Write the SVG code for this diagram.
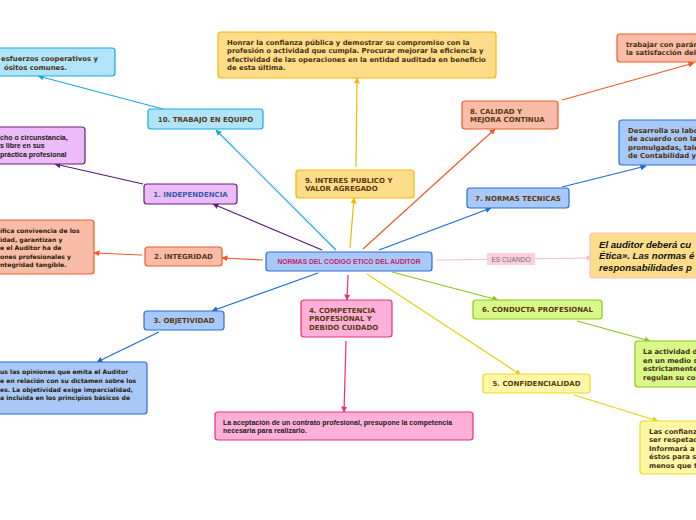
<svg xmlns="http://www.w3.org/2000/svg" width="696" height="520" viewBox="0 0 696 520">
<defs>
<style>
.n{stroke-width:1.2}
.t{font-family:"DejaVu Sans",Verdana,sans-serif;font-weight:bold;font-size:7px;fill:#5a3a10}
.tl{font-family:"DejaVu Sans",Verdana,sans-serif;font-weight:bold;font-size:6.9px;fill:#4a3010}
.ts{font-family:"DejaVu Sans",Verdana,sans-serif;font-weight:bold;font-size:6.1px;fill:#2a1a08}
.ta{font-family:"Liberation Sans",Arial,sans-serif;font-weight:bold;font-size:7px;fill:#1a1a1a}
.c{fill:none;stroke-width:1.2}
.blue{fill:#a8c8f8;stroke:#2a6fd6}
.cyan{fill:#b0e4fa;stroke:#1aa8e0}
.purp{fill:#ebbcf8;stroke:#6a1f7a}
.sal{fill:#f9bca8;stroke:#f05a28}
.pink{fill:#ffb0d8;stroke:#e8307a}
.gold{fill:#fddc8a;stroke:#f5b800}
.yel{fill:#fff7a8;stroke:#f0d820}
.grn{fill:#d8f88a;stroke:#8ac81a}
</style>
<marker id="aCy" viewBox="0 0 6 6" refX="5.5" refY="3" markerWidth="6" markerHeight="6" markerUnits="userSpaceOnUse" orient="auto"><path d="M0,0L6,3L0,6z" fill="#1aa8e0"/></marker>
<marker id="aPu" viewBox="0 0 6 6" refX="5.5" refY="3" markerWidth="6" markerHeight="6" markerUnits="userSpaceOnUse" orient="auto"><path d="M0,0L6,3L0,6z" fill="#5a1a7a"/></marker>
<marker id="aOr" viewBox="0 0 6 6" refX="5.5" refY="3" markerWidth="6" markerHeight="6" markerUnits="userSpaceOnUse" orient="auto"><path d="M0,0L6,3L0,6z" fill="#f05a28"/></marker>
<marker id="aBl" viewBox="0 0 6 6" refX="5.5" refY="3" markerWidth="6" markerHeight="6" markerUnits="userSpaceOnUse" orient="auto"><path d="M0,0L6,3L0,6z" fill="#1a6ad8"/></marker>
<marker id="aPk" viewBox="0 0 6 6" refX="5.5" refY="3" markerWidth="6" markerHeight="6" markerUnits="userSpaceOnUse" orient="auto"><path d="M0,0L6,3L0,6z" fill="#e8307a"/></marker>
<marker id="aYe" viewBox="0 0 6 6" refX="5.5" refY="3" markerWidth="6" markerHeight="6" markerUnits="userSpaceOnUse" orient="auto"><path d="M0,0L6,3L0,6z" fill="#e8d010"/></marker>
<marker id="aGr" viewBox="0 0 6 6" refX="5.5" refY="3" markerWidth="6" markerHeight="6" markerUnits="userSpaceOnUse" orient="auto"><path d="M0,0L6,3L0,6z" fill="#8ac81a"/></marker>
<marker id="aGo" viewBox="0 0 6 6" refX="5.5" refY="3" markerWidth="6" markerHeight="6" markerUnits="userSpaceOnUse" orient="auto"><path d="M0,0L6,3L0,6z" fill="#f5b800"/></marker>
<marker id="aLp" viewBox="0 0 6 6" refX="5.5" refY="3" markerWidth="6" markerHeight="6" markerUnits="userSpaceOnUse" orient="auto"><path d="M0,0L6,3L0,6z" fill="#f8c0d0"/></marker>
</defs>
<rect width="696" height="520" fill="#ffffff"/>
<g id="connectors">
<line class="c" x1="336" y1="250" x2="216" y2="130" stroke="#1aa8e0" marker-end="url(#aCy)"/>
<line class="c" x1="163" y1="109" x2="38" y2="76" stroke="#1aa8e0" marker-end="url(#aCy)"/>
<line class="c" x1="322" y1="250" x2="213" y2="204" stroke="#5a1a7a" marker-end="url(#aPu)"/>
<line class="c" x1="143" y1="184" x2="55" y2="164" stroke="#5a1a7a" marker-end="url(#aPu)"/>
<line class="c" x1="263" y1="260" x2="222" y2="258" stroke="#f05a28" marker-end="url(#aOr)"/>
<line class="c" x1="142" y1="255" x2="94" y2="253" stroke="#f05a28" marker-end="url(#aOr)"/>
<line class="c" x1="318" y1="273" x2="212" y2="311" stroke="#1a6ad8" marker-end="url(#aBl)"/>
<line class="c" x1="159" y1="332" x2="97" y2="362" stroke="#1a6ad8" marker-end="url(#aBl)"/>
<line class="c" x1="348" y1="275" x2="347" y2="300" stroke="#e8307a" marker-end="url(#aPk)"/>
<line class="c" x1="346" y1="341" x2="344" y2="412" stroke="#e8307a" marker-end="url(#aPk)"/>
<line class="c" x1="367" y1="274" x2="521" y2="375" stroke="#e8d010" marker-end="url(#aYe)"/>
<line class="c" x1="574" y1="395" x2="658" y2="421" stroke="#e8d010" marker-end="url(#aYe)"/>
<line class="c" x1="392" y1="272" x2="498" y2="300" stroke="#8ac81a" marker-end="url(#aGr)"/>
<line class="c" x1="577" y1="321" x2="650" y2="341" stroke="#8ac81a" marker-end="url(#aGr)"/>
<line class="c" x1="379" y1="250" x2="491" y2="208" stroke="#1a6ad8" marker-end="url(#aBl)"/>
<line class="c" x1="562" y1="187" x2="646" y2="166" stroke="#1a6ad8" marker-end="url(#aBl)"/>
<line class="c" x1="363" y1="249" x2="495" y2="129" stroke="#f05a28" marker-end="url(#aOr)"/>
<line class="c" x1="562" y1="100" x2="694" y2="63" stroke="#f05a28" marker-end="url(#aOr)"/>
<line class="c" x1="350" y1="248" x2="354" y2="198" stroke="#f5b800" marker-end="url(#aGo)"/>
<line class="c" x1="356" y1="167" x2="357" y2="78" stroke="#f5b800" marker-end="url(#aGo)"/>
<line class="c" x1="436" y1="260" x2="592" y2="258" stroke="#f8c0d0" marker-end="url(#aLp)"/>
<g id="label-es-cuando">
<rect x="487" y="253" width="48" height="12" fill="#fbd0dc"/>
<text x="511" y="261.5" text-anchor="middle" font-family="'Liberation Sans',Arial,sans-serif" font-size="6.6" fill="#7a6a70">ES CUANDO</text>
</g>
</g>
<g id="center">
<rect class="n blue" x="266" y="252" width="166" height="19" rx="3"/>
<text x="349" y="264.3" text-anchor="middle" font-family="'Liberation Sans',Arial,sans-serif" font-weight="bold" font-size="6.7" fill="#c8206a">NORMAS DEL CODIGO ETICO DEL AUDITOR</text>
</g>
<g id="n10">
<rect class="n cyan" x="148" y="109" width="115" height="20" rx="3"/>
<text class="t" x="205.5" y="121.5" text-anchor="middle">10. TRABAJO EN EQUIPO</text>
</g>
<g id="n10-leaf">
<rect class="n cyan" x="-10" y="48" width="125" height="28" rx="3"/>
<text class="tl" x="1" y="61">esfuerzos cooperativos y</text>
<text class="tl" x="4" y="69.5">ósitos comunes.</text>
</g>
<g id="n1">
<rect class="n purp" x="144" y="184" width="93" height="20" rx="3"/>
<text class="t" x="190.5" y="196.5" text-anchor="middle" style="fill:#3a5aa8">1. INDEPENDENCIA</text>
</g>
<g id="n1-leaf">
<rect class="n purp" x="-10" y="127" width="95" height="37" rx="3"/>
<text class="ta" x="0" y="139.5">cho o circunstancia,</text>
<text class="ta" x="0" y="148">s libre en sus</text>
<text class="ta" x="0" y="156.5">práctica profesional</text>
</g>
<g id="n2">
<rect class="n sal" x="145" y="247" width="77" height="19" rx="3"/>
<text class="t" x="183.5" y="259" text-anchor="middle">2. INTEGRIDAD</text>
</g>
<g id="n2-leaf">
<rect class="n sal" x="-10" y="220" width="104" height="54" rx="3"/>
<text class="ts" x="0" y="233">ífica convivencia de los</text>
<text class="ts" x="0" y="241.5">idad, garantizan y</text>
<text class="ts" x="0" y="250">e el Auditor ha de</text>
<text class="ts" x="0" y="258.5">ones profesionales y</text>
<text class="ts" x="0" y="267">ntegridad tangible.</text>
</g>
<g id="n3">
<rect class="n blue" x="144" y="311" width="80" height="19" rx="3"/>
<text class="t" x="184" y="323" text-anchor="middle">3. OBJETIVIDAD</text>
</g>
<g id="n3-leaf">
<rect class="n blue" x="-10" y="362" width="157" height="52" rx="3"/>
<text class="ts" x="0" y="374">us las opiniones que emita el Auditor</text>
<text class="ts" x="0" y="383">e en relación con su dictamen sobre los</text>
<text class="ts" x="0" y="391.5">es. La objetividad exige imparcialidad,</text>
<text class="ts" x="0" y="400">a incluida en los principios básicos de</text>
</g>
<g id="n4">
<rect class="n pink" x="301" y="300" width="91" height="37" rx="3"/>
<text class="t" x="309" y="312.5">4. COMPETENCIA</text>
<text class="t" x="309" y="321">PROFESIONAL Y</text>
<text class="t" x="309" y="329.5">DEBIDO CUIDADO</text>
</g>
<g id="n4-leaf">
<rect class="n pink" x="215" y="412" width="258" height="28" rx="3"/>
<text class="ta" x="223" y="424.5">La aceptación de un contrato profesional, presupone la competencia</text>
<text class="ta" x="223" y="433">necesaria para realizarlo.</text>
</g>
<g id="n5">
<rect class="n yel" x="483" y="374" width="107" height="19" rx="3"/>
<text class="t" x="536.5" y="386" text-anchor="middle">5. CONFIDENCIALIDAD</text>
</g>
<g id="n5-leaf">
<rect class="n yel" x="640" y="421" width="70" height="53" rx="3"/>
<text class="tl" x="649" y="433.5">Las confianza</text>
<text class="tl" x="649" y="442">ser respetad</text>
<text class="tl" x="649" y="450.5">Informará a</text>
<text class="tl" x="649" y="459">éstos para s</text>
<text class="tl" x="649" y="467.5">menos que t</text>
</g>
<g id="n6">
<rect class="n grn" x="473" y="300" width="129" height="19" rx="3"/>
<text class="t" x="537.5" y="312" text-anchor="middle">6. CONDUCTA PROFESIONAL</text>
</g>
<g id="n6-leaf">
<rect class="n grn" x="635" y="341" width="75" height="46" rx="3"/>
<text class="tl" x="643" y="354">La actividad d</text>
<text class="tl" x="643" y="362.5">en un medio s</text>
<text class="tl" x="643" y="371">estrictamente</text>
<text class="tl" x="643" y="379.5">regulan su co</text>
</g>
<g id="n7">
<rect class="n blue" x="467" y="188" width="102" height="20" rx="3"/>
<text class="t" x="518" y="200.5" text-anchor="middle">7. NORMAS TECNICAS</text>
</g>
<g id="n7-leaf">
<rect class="n blue" x="619" y="120" width="90" height="45" rx="3"/>
<text class="tl" x="628" y="132.5">Desarrolla su labo</text>
<text class="tl" x="628" y="141">de acuerdo con la</text>
<text class="tl" x="628" y="149.5">promulgadas, tale</text>
<text class="tl" x="628" y="158">de Contabilidad y</text>
</g>
<g id="n8">
<rect class="n sal" x="462" y="101" width="96" height="28" rx="3"/>
<text class="t" x="470" y="113.5">8. CALIDAD Y</text>
<text class="t" x="470" y="122">MEJORA CONTINUA</text>
</g>
<g id="n8-leaf">
<rect class="n sal" x="617" y="34" width="90" height="28" rx="3"/>
<text class="tl" x="626" y="46.5">trabajar con parám</text>
<text class="tl" x="626" y="55">la satisfacción del</text>
</g>
<g id="n9">
<rect class="n gold" x="296" y="170" width="118" height="28" rx="3"/>
<text class="t" x="305" y="182.5">9. INTERES PUBLICO Y</text>
<text class="t" x="305" y="191">VALOR AGREGADO</text>
</g>
<g id="n9-leaf">
<rect class="n gold" x="218" y="32" width="278" height="46" rx="3"/>
<text class="tl" x="227" y="44.5">Honrar la confianza pública y demostrar su compromiso con la</text>
<text class="tl" x="227" y="53">profesión o actividad que cumpla. Procurar mejorar la eficiencia y</text>
<text class="tl" x="227" y="61.5">efectividad de las operaciones en la entidad auditada en beneficio</text>
<text class="tl" x="227" y="70">de esta última.</text>
</g>
<g id="etica-leaf">
<rect x="590" y="233" width="120" height="45" rx="3" fill="#fddc8a" stroke="#f8c0d0" stroke-width="1.2"/>
<text x="599" y="247.5" font-family="'Liberation Sans',Arial,sans-serif" font-weight="bold" font-style="italic" font-size="9.6" fill="#111">El auditor deberá cu</text>
<text x="599" y="259" font-family="'Liberation Sans',Arial,sans-serif" font-weight="bold" font-style="italic" font-size="9.6" fill="#111">Ética». Las normas é</text>
<text x="599" y="270.5" font-family="'Liberation Sans',Arial,sans-serif" font-weight="bold" font-style="italic" font-size="9.6" fill="#111">responsabilidades p</text>
</g>
</svg>
